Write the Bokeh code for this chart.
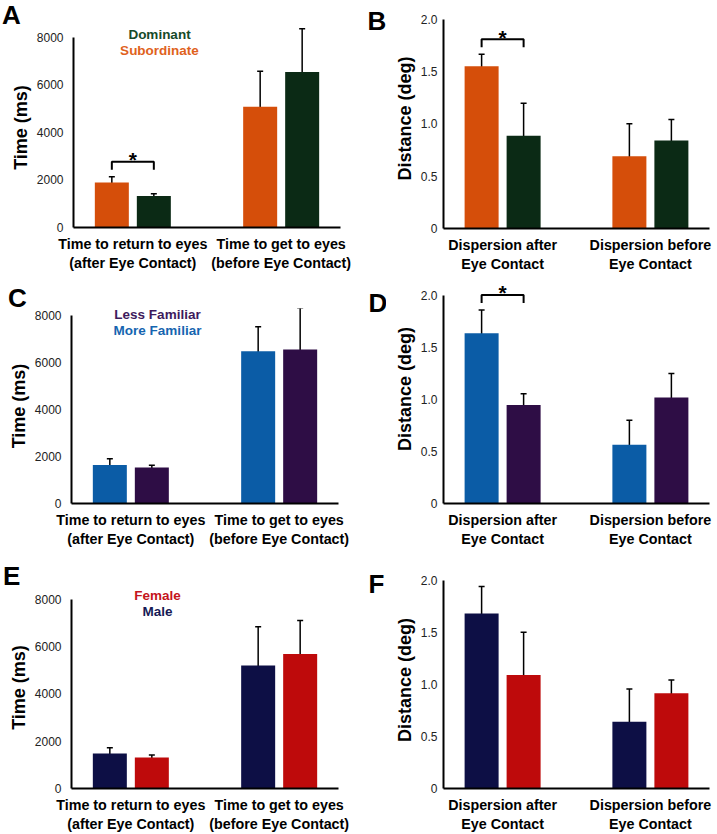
from bokeh.plotting import figure
from bokeh.layouts import column, row
from bokeh.models import Range1d, FixedTicker, Label, Whisker, ColumnDataSource, TeeHead, Div
from bokeh.embed import file_html
from bokeh.resources import INLINE

FONT = "Liberation Sans"

# ---------------- data ----------------
time_categories = ["Time to return to eyes\n(after Eye Contact)", "Time to get to eyes\n(before Eye Contact)"]
disp_categories = ["Dispersion after\nEye Contact", "Dispersion before\nEye Contact"]

time_ticks = [0, 2000, 4000, 6000, 8000]
time_tick_labels = ["0", "2000", "4000", "6000", "8000"]
dist_ticks = [0, 0.5, 1.0, 1.5, 2.0]
dist_tick_labels = ["0", "0.5", "1.0", "1.5", "2.0"]

# Panel A (time, dominance)
A_subordinate = [1890, 5080]
A_subordinate_err = [250, 1500]
A_dominant = [1330, 6550]
A_dominant_err = [95, 1820]
# Panel B (dispersion, dominance)
B_subordinate = [1.55, 0.69]
B_subordinate_err = [0.115, 0.31]
B_dominant = [0.885, 0.84]
B_dominant_err = [0.31, 0.20]
# Panel C (time, familiarity)
C_more = [1640, 6470]
C_more_err = [260, 1030]
C_less = [1530, 6540]
C_less_err = [90, 1760]
# Panel D (dispersion, familiarity)
D_more = [1.64, 0.565]
D_more_err = [0.225, 0.236]
D_less = [0.95, 1.02]
D_less_err = [0.108, 0.233]
# Panel E (time, sex)
E_male = [1480, 5210]
E_male_err = [240, 1640]
E_female = [1310, 5690]
E_female_err = [105, 1425]
# Panel F (dispersion, sex)
F_male = [1.68, 0.64]
F_male_err = [0.258, 0.315]
F_female = [1.09, 0.915]
F_female_err = [0.41, 0.126]

ORANGE, GREEN = "#D54E0A", "#0B2A15"
BLUE, PURPLE = "#0B5CA6", "#2E0D45"
NAVY, RED = "#0D0F45", "#BE0A0B"


def letter_div(letter, w, h, dx, dy):
    html = ('<div style="position:relative; left:%dpx; top:%dpx; font-family:\'Liberation Sans\'; '
            'font-weight:bold; font-size:26px; line-height:18px; color:black; margin:0; padding:0;">%s</div>'
            % (dx, dy, letter))
    return Div(text=html, width=w, height=h, margin=0)


def strip(letter, w, h, x, frame_h, y_px):
    # the strip's frame is aligned (vertically) with the neighbouring panel's frame,
    # so its y range is expressed in pixels of that frame
    s = figure(width=w, height=h, x_range=Range1d(0, w), y_range=Range1d(0, frame_h),
               output_backend="svg", toolbar_location=None,
               x_axis_location=None, y_axis_location=None,
               min_border=0, min_border_left=0, min_border_right=0,
               min_border_top=0, min_border_bottom=0)
    s.grid.visible = False
    s.outline_line_color = None
    s.add_layout(Label(x=x, y=y_px, text=letter, text_align="left", text_baseline="top",
                       text_font=FONT, text_font_style="bold", text_font_size="26px",
                       text_color="black"))
    return s


def make_panel(cats, series, colors, legend, legend_top, sig,
               ylabel, ticks, tick_labels, yend, w, h, t, b, l, r, ystand, xstand):
    p = figure(width=w, height=h, x_range=Range1d(0.6, 2.4), y_range=Range1d(0, yend),
               output_backend="svg", toolbar_location=None,
               min_border_top=t, min_border_bottom=b, min_border_left=l, min_border_right=r)
    p.grid.visible = False
    p.outline_line_color = None

    fw = w - l - r
    fh = h - t - b
    ppx = fw / 1.8
    ppy = fh / yend
    bar_w = 34 / ppx
    off = 21 / ppx
    offsets = [-off, off]

    groups = [1, 2]
    for k, ((vals, errs), col) in enumerate(zip(series, colors)):
        xs = [g + offsets[k] for g in groups]
        src = ColumnDataSource(dict(x=xs, top=vals,
                                    upper=[v + e for v, e in zip(vals, errs)],
                                    lower=[v - e for v, e in zip(vals, errs)]))
        p.vbar(x="x", top="top", width=bar_w, bottom=0, source=src,
               fill_color=col, line_color=None)
        wk = Whisker(base="x", upper="upper", lower="lower", source=src,
                     line_color="black", line_width=1.5,
                     upper_head=TeeHead(size=6, line_width=1.5, line_color="black"),
                     lower_head=TeeHead(size=6, line_width=1.5, line_color="black"))
        p.add_layout(wk)

    # significance bracket
    for gi in sig:
        g = groups[gi]
        tops = [s[0][gi] + s[1][gi] for s in series]
        yb = max(tops) + 15 / ppy
        tick = 8 / ppy
        x1, x2 = g + offsets[0], g + offsets[1]
        p.line([x1, x1, x2, x2], [yb - tick, yb, yb, yb - tick], line_color="black", line_width=2)
        p.add_layout(Label(x=g, y=yb + 2 / ppy, text="*", text_align="center",
                           text_baseline="alphabetic", text_font=FONT, text_font_style="bold",
                           text_font_size="21px", text_color="black"))

    # legend texts
    top_px = min(legend_top, fh - 6)
    for i, (txt, col) in enumerate(legend):
        p.add_layout(Label(x=0.6 + 86 / ppx, y=(top_px - 16 * i) / ppy, text=txt,
                           text_align="center", text_baseline="middle", text_font=FONT,
                           text_font_style="bold", text_font_size="13.5px", text_color=col))

    # axes
    xa = p.xaxis[0]
    xa.axis_label = None
    xa.axis_label_standoff = 0
    xa.ticker = FixedTicker(ticks=groups)
    xa.major_label_overrides = {g: c for g, c in zip(groups, cats)}
    xa.major_tick_line_color = None
    xa.minor_tick_line_color = None
    xa.major_tick_out = 0
    xa.major_tick_in = 0
    xa.axis_line_width = 2
    xa.axis_line_color = "black"
    xa.major_label_text_font = FONT
    xa.major_label_text_font_style = "bold"
    xa.major_label_text_font_size = "14.3px"
    xa.major_label_text_color = "black"
    xa.major_label_standoff = xstand

    ya = p.yaxis[0]
    ya.ticker = FixedTicker(ticks=ticks)
    ya.major_label_overrides = {tk: lb for tk, lb in zip(ticks, tick_labels)}
    ya.bounds = (0, ticks[-1])
    ya.major_tick_line_color = None
    ya.minor_tick_line_color = None
    ya.major_tick_out = 0
    ya.major_tick_in = 0
    ya.axis_line_width = 2
    ya.axis_line_color = "black"
    ya.major_label_text_font = FONT
    ya.major_label_text_font_size = "12px"
    ya.major_label_text_color = "#222222"
    ya.major_label_standoff = ystand
    ya.axis_label = ylabel
    ya.axis_label_text_font = FONT
    ya.axis_label_text_font_style = "bold"
    ya.axis_label_text_font_size = "18px"
    ya.axis_label_text_color = "black"
    ya.axis_label_standoff = 3
    return p


LW = 360
SW, RW = 26, 331
H0, H1, H2 = 274, 282, 278

# Row 0  (y 0 - 274)
dA = letter_div("A", LW, 27, 2, 6)
pA = make_panel(time_categories,
                [(A_subordinate, A_subordinate_err), (A_dominant, A_dominant_err)],
                [ORANGE, GREEN], [("Dominant", "#164A29"), ("Subordinate", "#E0621C")], 193, [0],
                "Time (ms)", time_ticks, time_tick_labels, 8421, LW, H0 - 27, 0, 47, 73, 20, 10, 8)
sB = strip("B", SW, H0, 7, H0 - 8 - 46, 223)
pB = make_panel(disp_categories,
                [(B_subordinate, B_subordinate_err), (B_dominant, B_dominant_err)],
                [ORANGE, GREEN], [], 0, [0],
                "Distance (deg)", dist_ticks, dist_tick_labels, 2.101, RW, H0, 8, 46, 57, 8, 6, 8)
# Row 1  (y 274 - 556)
dC = letter_div("C", LW, 34, 8, 15)
pC = make_panel(time_categories,
                [(C_more, C_more_err), (C_less, C_less_err)],
                [BLUE, PURPLE], [("Less Familiar", "#3E1A5C"), ("More Familiar", "#1565B0")], 190, [],
                "Time (ms)", time_ticks, time_tick_labels, 8280, LW, H1 - 34, 0, 53, 71, 22, 10, 8)
sD = strip("D", SW, H1, 8, H1 - 0 - 53, 216)
pD = make_panel(disp_categories,
                [(D_more, D_more_err), (D_less, D_less_err)],
                [BLUE, PURPLE], [], 0, [0],
                "Distance (deg)", dist_ticks, dist_tick_labels, 2.206, RW, H1, 0, 53, 57, 8, 6, 8)
# Row 2  (y 556 - 834)
dE = letter_div("E", LW, 30, 3, 11)
pE = make_panel(time_categories,
                [(E_male, E_male_err), (E_female, E_female_err)],
                [NAVY, RED], [("Female", "#C4141C"), ("Male", "#151A55")], 193, [],
                "Time (ms)", time_ticks, time_tick_labels, 8550, LW, H2 - 30, 0, 46, 71, 22, 10, 8)
sF = strip("F", SW, H2, 8, H2 - 15 - 46, 220)
pF = make_panel(disp_categories,
                [(F_male, F_male_err), (F_female, F_female_err)],
                [NAVY, RED], [], 0, [],
                "Distance (deg)", dist_ticks, dist_tick_labels, 2.083, RW, H2, 15, 46, 57, 8, 6, 8)

layout = column(
    row(column(dA, pA, spacing=0), row(sB, pB, spacing=0), spacing=0),
    row(column(dC, pC, spacing=0), row(sD, pD, spacing=0), spacing=0),
    row(column(dE, pE, spacing=0), row(sF, pF, spacing=0), spacing=0),
    spacing=0)
open("out.html", "w").write(file_html(layout, INLINE))
